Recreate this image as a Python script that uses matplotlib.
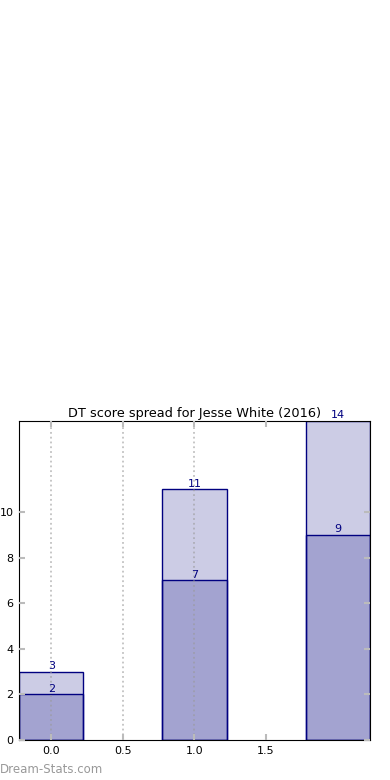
import numpy as np
from matplotlib import pyplot as plt

# score spread data
positions = [0, 1, 2]
totals = [3, 11, 14]
lows = [2, 7, 9]
xticks = [0.0, 0.5, 1.0, 1.5]
yticks = [0, 2, 4, 6, 8, 10]
title = 'DT score spread for Jesse White (2016)'

fig = plt.figure(figsize=(3.9, 7.8), dpi=100)
ax = fig.add_axes([0.0487, 0.0513, 0.9, 0.409])

ax.bar(positions, totals, width=0.45, color='navy', alpha=0.2, zorder=1)
ax.bar(positions, totals, width=0.45, facecolor='none', edgecolor='navy', linewidth=1, zorder=2)
ax.bar(positions, lows, width=0.45, color='navy', alpha=0.2, zorder=1)
ax.bar(positions, lows, width=0.45, facecolor='none', edgecolor='navy', linewidth=1, zorder=2)

for x, t, l in zip(positions, totals, lows):
    ax.text(x, t + 0.03, str(t), ha='center', va='bottom', color='navy', fontsize=8, clip_on=False)
    ax.text(x, l + 0.03, str(l), ha='center', va='bottom', color='navy', fontsize=8)

ax.set_xlim(-0.225, 2.225)
ax.set_ylim(0, 14)
ax.set_xticks(xticks)
ax.set_yticks(yticks)
ax.set_xticklabels(['%.1f' % v for v in xticks], fontsize=8)
ax.set_yticklabels([str(v) for v in yticks], fontsize=8)
ax.tick_params(direction='in', top=True, right=True, color='#bbbbbb', length=4, width=1.5, pad=4)
ax.xaxis.grid(True, linestyle=':', color='#999999', alpha=0.6, linewidth=1.3, zorder=3)
ax.set_axisbelow(False)
# the reference shows no gridline at 1.5
ax.get_xgridlines()[-1].set_visible(False)
ax.set_title(title, fontsize=9.3, pad=3)

fig.text(0.0, 0.005, 'Dream-Stats.com', color='#999999', fontsize=8.5,
         ha='left', va='bottom')

plt.savefig('out.png', dpi=100)
